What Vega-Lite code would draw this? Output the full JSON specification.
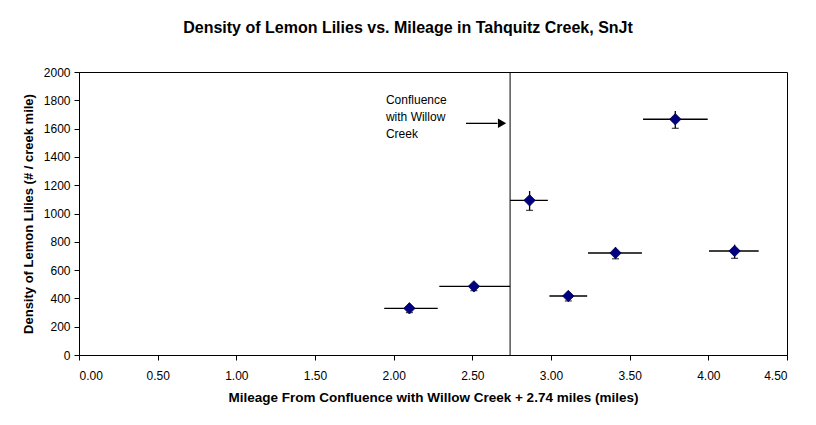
{
  "$schema": "https://vega.github.io/schema/vega-lite/v6.json",
  "width": 708,
  "height": 283,
  "autosize": "none",
  "padding": {"left": 79, "top": 72, "right": 29, "bottom": 70},
  "background": "white",
  "config": {
    "font": "Liberation Sans",
    "view": {"stroke": "black", "strokeWidth": 1},
    "axis": {
      "grid": false,
      "domainColor": "black",
      "tickColor": "black",
      "tickSize": 5,
      "labelFont": "Liberation Sans",
      "labelFontSize": 12,
      "labelColor": "black",
      "titleFont": "Liberation Sans",
      "titleFontSize": 13,
      "titleFontWeight": "bold",
      "titleColor": "black"
    }
  },
  "title": {
    "text": "Density of Lemon Lilies vs. Mileage in Tahquitz Creek, SnJt",
    "font": "Liberation Sans",
    "fontSize": 16,
    "fontWeight": "bold",
    "color": "black",
    "anchor": "middle",
    "dx": -25,
    "offset": 30
  },
  "datasets": {
    "sites": [
      {"mile": 2.10, "density": 330, "mile_lo": 1.94, "mile_hi": 2.28, "dens_lo": 300, "dens_hi": 360},
      {"mile": 2.51, "density": 485, "mile_lo": 2.29, "mile_hi": 2.74, "dens_lo": 455, "dens_hi": 515},
      {"mile": 2.864, "density": 1093, "mile_lo": 2.74, "mile_hi": 2.98, "dens_lo": 1022, "dens_hi": 1159},
      {"mile": 3.11, "density": 417, "mile_lo": 2.99, "mile_hi": 3.23, "dens_lo": 382, "dens_hi": 452},
      {"mile": 3.41, "density": 721, "mile_lo": 3.235, "mile_hi": 3.578, "dens_lo": 680, "dens_hi": 762},
      {"mile": 3.79, "density": 1666, "mile_lo": 3.585, "mile_hi": 3.996, "dens_lo": 1602, "dens_hi": 1724},
      {"mile": 4.167, "density": 735, "mile_lo": 4.004, "mile_hi": 4.32, "dens_lo": 683, "dens_hi": 780}
    ],
    "confluence": [{"mile": 2.74}],
    "arrow": [{"mile_start": 2.46, "mile_end": 2.66, "head": 2.689, "density": 1637}],
    "note": [{"mile": 1.951, "density": 1772, "label": ["Confluence", "with Willow", "Creek"]}]
  },
  "encoding": {
    "x": {
      "type": "quantitative",
      "scale": {"domain": [0, 4.5], "nice": false, "zero": false},
      "axis": {
        "title": "Mileage From Confluence with Willow Creek + 2.74 miles (miles)",
        "titleFontSize": 13.5,
        "values": [0, 0.5, 1, 1.5, 2, 2.5, 3, 3.5, 4, 4.5],
        "format": ".2f",
        "labelPadding": 10,
        "titlePadding": 9
      }
    },
    "y": {
      "type": "quantitative",
      "scale": {"domain": [0, 2000], "nice": false},
      "axis": {
        "title": "Density of Lemon Lilies (# / creek mile)",
        "values": [0, 200, 400, 600, 800, 1000, 1200, 1400, 1600, 1800, 2000],
        "format": "d",
        "labelPadding": 4,
        "titlePadding": 8
      }
    }
  },
  "layer": [
    {
      "data": {"name": "confluence"},
      "mark": {"type": "rule", "color": "black", "strokeWidth": 1},
      "encoding": {"x": {"field": "mile", "type": "quantitative"}}
    },
    {
      "data": {"name": "sites"},
      "mark": {"type": "rule", "color": "black", "strokeWidth": 1.3},
      "encoding": {
        "x": {"field": "mile_lo", "type": "quantitative"},
        "x2": {"field": "mile_hi"},
        "y": {"field": "density", "type": "quantitative"}
      }
    },
    {
      "data": {"name": "sites"},
      "mark": {"type": "rule", "color": "black", "strokeWidth": 1.3},
      "encoding": {
        "x": {"field": "mile", "type": "quantitative"},
        "y": {"field": "dens_lo", "type": "quantitative"},
        "y2": {"field": "dens_hi"}
      }
    },
    {
      "data": {"name": "sites"},
      "mark": {"type": "tick", "orient": "horizontal", "color": "black", "size": 7, "thickness": 1.3},
      "encoding": {
        "x": {"field": "mile", "type": "quantitative"},
        "y": {"field": "dens_lo", "type": "quantitative"}
      }
    },
    {
      "data": {"name": "sites"},
      "mark": {"type": "point", "shape": "diamond", "filled": true, "size": 130, "color": "#000080", "stroke": "#000050", "strokeWidth": 0.8, "opacity": 1},
      "encoding": {
        "x": {"field": "mile", "type": "quantitative"},
        "y": {"field": "density", "type": "quantitative"}
      }
    },
    {
      "data": {"name": "arrow"},
      "mark": {"type": "rule", "color": "black", "strokeWidth": 1.3},
      "encoding": {
        "x": {"field": "mile_start", "type": "quantitative"},
        "x2": {"field": "mile_end"},
        "y": {"field": "density", "type": "quantitative"}
      }
    },
    {
      "data": {"name": "arrow"},
      "mark": {"type": "point", "shape": "triangle-right", "filled": true, "size": 90, "color": "black", "opacity": 1},
      "encoding": {
        "x": {"field": "head", "type": "quantitative"},
        "y": {"field": "density", "type": "quantitative"}
      }
    },
    {
      "data": {"name": "note"},
      "mark": {"type": "text", "align": "left", "baseline": "alphabetic", "fontSize": 12, "lineHeight": 17, "color": "black", "font": "Liberation Sans"},
      "encoding": {
        "x": {"field": "mile", "type": "quantitative"},
        "y": {"field": "density", "type": "quantitative"},
        "text": {"field": "label"}
      }
    }
  ]
}
